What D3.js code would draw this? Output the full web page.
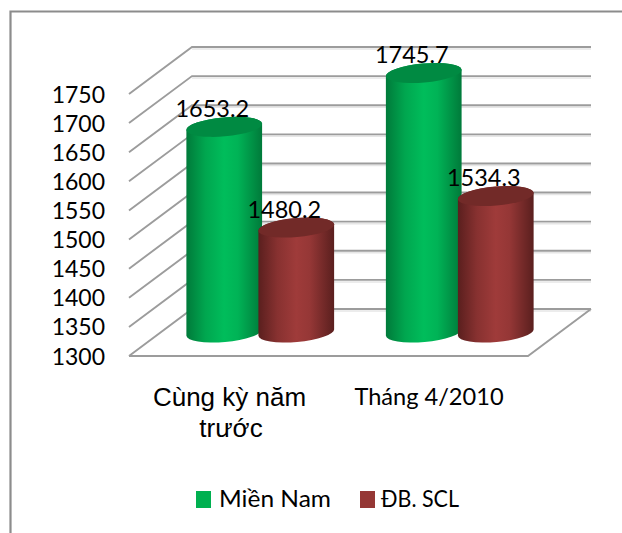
<!DOCTYPE html>
<html><head><meta charset="utf-8">
<script src="https://cdn.jsdelivr.net/npm/d3@7/dist/d3.min.js"></script>
<style>html,body{margin:0;padding:0;background:#fff;overflow:hidden}svg{display:block}</style>
</head><body><svg id="c" width="622" height="533"></svg>
<script>
const categories = ["Cùng kỳ năm trước", "Tháng 4/2010"];
const seriesNames = ["Miền Nam", "ĐB. SCL"];
const mienNam = [1653.2, 1745.7];
const dbScl = [1480.2, 1534.3];
const tickValues = [1300,1350,1400,1450,1500,1550,1600,1650,1700,1750];

const svg = d3.select("#c");
const W = 622, H = 533;
// 3D box geometry
const front = {x0:129, x1:528, y0:356, y1:94};
const depth = {dx:63, dy:-47};
const y = d3.scaleLinear().domain([1300,1750]).range([front.y0, front.y1]);
const x = d3.scaleBand().domain(categories).range([front.x0+depth.dx/2, front.x1+depth.dx/2]);
const xs = d3.scaleBand().domain(seriesNames).range([0, x.bandwidth()]).paddingInner(-0.05).paddingOuter(0.36);

const series = [
  {name:seriesNames[0], values:mienNam, edge:"#007a3a", mid:"#00bd5b", cap:"#008a42", sw:"#00b050"},
  {name:seriesNames[1], values:dbScl, edge:"#5a1f1e", mid:"#9f3b3a", cap:"#722a28", sw:"#953735"}
];

const defs = svg.append("defs");
series.forEach((s,i)=>{
  const g = defs.append("linearGradient").attr("id","g"+i).attr("x1","0").attr("x2","1").attr("y1","0").attr("y2","0");
  [[0,s.edge],[.25,d3.interpolateRgb(s.edge,s.mid)(.65)],[.5,s.mid],[.68,d3.interpolateRgb(s.edge,s.mid)(.85)],[1,s.edge]]
    .forEach(d=>g.append("stop").attr("offset",d[0]).attr("stop-color",d[1]));
});

// chart frame
svg.append("path").attr("d",`M${W},11.5H10.5V${H}`).attr("fill","none").attr("stroke","#8c8c8c").attr("stroke-width",2.2);

// gridlines
const grid = svg.append("g").attr("fill","none").attr("stroke","#9c9c9c").attr("stroke-width",1.9);
const shadow = svg.insert("g","g").attr("fill","none").attr("stroke","#e6e6e6").attr("stroke-width",1.5);
tickValues.forEach(t=>{
  const p = d3.path();
  p.moveTo(front.x0, y(t));
  p.lineTo(front.x0+depth.dx, y(t)+depth.dy);
  p.lineTo(front.x1+depth.dx, y(t)+depth.dy);
  grid.append("path").attr("d",p.toString());
  shadow.append("path").attr("d",`M${front.x0+depth.dx},${y(t)+depth.dy+2}H${front.x1+depth.dx}`);
});
grid.append("path").attr("d",`M${front.x0},${front.y0}H${front.x1}L${front.x1+depth.dx},${front.y0+depth.dy}`);

// cylinders
const bars = svg.append("g");
const labels = [];
const rot = -5;
const rx = 38, ry = 9.5;
const seriesShift = depth.dy/2;
series.forEach((s,i)=>{
  s.values.forEach((v,j)=>{
    const cx = x(categories[j]) + xs(s.name) + xs.bandwidth()/2;
    const base = y(1300)+seriesShift, top = y(v)+seriesShift;
    const a = rot*Math.PI/180, ex = rx*Math.cos(a), ey = rx*Math.sin(a);
    const d = `M${cx-ex},${top-ey}L${cx-ex},${base-ey}`+
      `A${rx},${ry} ${rot} 0 0 ${cx+ex},${base+ey}L${cx+ex},${top+ey}`+
      `A${rx},${ry} ${rot} 0 0 ${cx-ex},${top-ey}Z`;
    bars.append("path").attr("d",d).attr("fill",`url(#g${i})`);
    bars.append("ellipse").attr("cx",0).attr("cy",0).attr("rx",rx).attr("ry",ry)
      .attr("transform",`translate(${cx},${top}) rotate(${rot})`).attr("fill",s.cap);
    labels.push({v,cx,top});
  });
});

const num = "Lato, Carlito, sans-serif";
// data labels
svg.append("g").selectAll("text").data(labels).join("text")
  .attr("x",d=>d.cx-12).attr("y",d=>d.top-10).attr("text-anchor","middle")
  .attr("font-family",num).attr("font-size",23.5).attr("fill","#000").text(d=>d.v.toFixed(1));

// value axis labels
svg.append("g").selectAll("text").data(tickValues).join("text")
  .attr("x",105).attr("y",d=>y(d)+8.5).attr("text-anchor","end")
  .attr("font-family",num).attr("font-size",23).attr("fill","#000").text(d=>d);

// category labels
const cat = svg.append("g").attr("fill","#000");
cat.append("text").attr("x",229.5).attr("y",406).attr("text-anchor","middle")
  .attr("font-family","Liberation Sans, Arial, sans-serif").attr("font-size",26).text("Cùng kỳ năm");
cat.append("text").attr("x",231).attr("y",437).attr("text-anchor","middle")
  .attr("font-family","Liberation Sans, Arial, sans-serif").attr("font-size",26).text("trước");
cat.append("text").attr("x",429).attr("y",405).attr("text-anchor","middle")
  .attr("font-family",num).attr("font-size",23.6).text(categories[1]);

// legend
const lg = svg.append("g");
[{x:196,tx:219,len:112},{x:360,tx:381,len:78}].forEach((p,i)=>{
  lg.append("rect").attr("x",p.x).attr("y",491).attr("width",15).attr("height",17).attr("fill",series[i].sw);
  lg.append("text").attr("x",p.tx).attr("y",507).attr("font-family",num).attr("font-size",24).attr("fill","#000")
    .attr("textLength",p.len).attr("lengthAdjust","spacingAndGlyphs").text(series[i].name);
});
</script></body></html>
